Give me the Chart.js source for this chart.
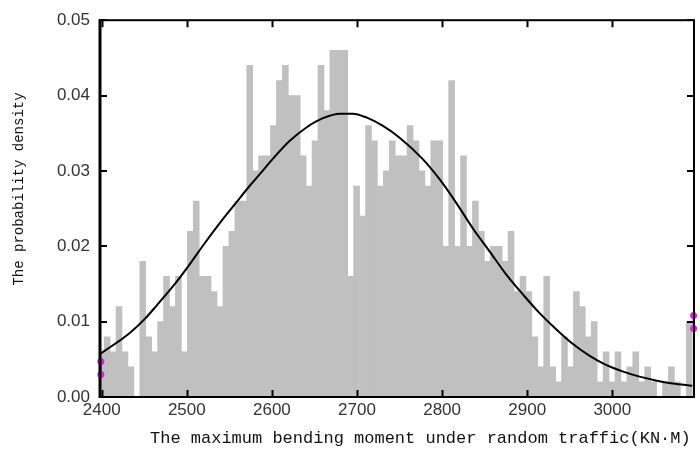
<!DOCTYPE html>
<html>
<head>
<meta charset="utf-8">
<script src="https://cdn.jsdelivr.net/npm/chart.js@4.4.0/dist/chart.umd.min.js"></script>
<style>
  html, body { margin: 0; padding: 0; background: #fff; }
  canvas { display: block; }
</style>
</head>
<body>
<canvas id="chart" width="700" height="451"></canvas>
<script>
// histogram bins (centres, KN·M) and their density
const binCenters = [
  2399.40, 2406.38, 2413.36, 2420.34, 2427.32, 2434.30, 2441.28, 2448.26, 2455.24, 2462.22,
  2469.20, 2476.18, 2483.16, 2490.14, 2497.12, 2504.10, 2511.08, 2518.06, 2525.04, 2532.02,
  2539.00, 2545.98, 2552.96, 2559.94, 2566.92, 2573.90, 2580.88, 2587.86, 2594.84, 2601.82,
  2608.80, 2615.78, 2622.76, 2629.74, 2636.72, 2643.70, 2650.68, 2657.66, 2664.64, 2671.62,
  2678.60, 2685.58, 2692.56, 2699.54, 2706.52, 2713.50, 2720.48, 2727.46, 2734.44, 2741.42,
  2748.40, 2755.38, 2762.36, 2769.34, 2776.32, 2783.30, 2790.28, 2797.26, 2804.24, 2811.22,
  2818.20, 2825.18, 2832.16, 2839.14, 2846.12, 2853.10, 2860.08, 2867.06, 2874.04, 2881.02,
  2888.00, 2894.98, 2901.96, 2908.94, 2915.92, 2922.90, 2929.88, 2936.86, 2943.84, 2950.82,
  2957.80, 2964.78, 2971.76, 2978.74, 2985.72, 2992.70, 2999.68, 3006.66, 3013.64, 3020.62,
  3027.60, 3034.58, 3041.56, 3048.54, 3055.52, 3062.50, 3069.48, 3076.46, 3083.44, 3090.42
];
const density = [
  0.006, 0.008, 0.006, 0.012, 0.006, 0.004, 0.000, 0.018, 0.008, 0.006,
  0.010, 0.016, 0.012, 0.016, 0.006, 0.022, 0.026, 0.016, 0.016, 0.014,
  0.012, 0.020, 0.022, 0.026, 0.026, 0.044, 0.030, 0.032, 0.032, 0.036,
  0.042, 0.044, 0.040, 0.040, 0.032, 0.028, 0.034, 0.044, 0.038, 0.046,
  0.046, 0.046, 0.016, 0.028, 0.024, 0.036, 0.034, 0.028, 0.030, 0.034,
  0.032, 0.032, 0.036, 0.034, 0.030, 0.028, 0.034, 0.034, 0.020, 0.042,
  0.020, 0.032, 0.020, 0.026, 0.022, 0.018, 0.020, 0.020, 0.018, 0.022,
  0.014, 0.016, 0.014, 0.008, 0.004, 0.016, 0.004, 0.002, 0.008, 0.004,
  0.014, 0.012, 0.008, 0.010, 0.002, 0.006, 0.002, 0.006, 0.002, 0.004,
  0.006, 0.002, 0.004, 0.002, 0.000, 0.002, 0.004, 0.002, 0.000, 0.010
];

// fitted density curve
const curveX = [
  2398, 2433, 2451, 2465, 2486, 2504, 2521, 2543, 2558, 2573,
  2586, 2601, 2621, 2641, 2660, 2680, 2695, 2711, 2730, 2749,
  2777, 2797, 2817, 2836, 2856, 2875, 2895, 2914, 2934, 2953,
  2973, 2992, 3012, 3032, 3051, 3071, 3094
];
const curveY = [
  0.0057, 0.0085, 0.0104, 0.0122, 0.0150, 0.0177, 0.0204, 0.0237, 0.0258, 0.0279,
  0.0296, 0.0316, 0.0340, 0.0358, 0.0370, 0.0376, 0.0376, 0.0371, 0.0360, 0.0345,
  0.0316, 0.0289, 0.0257, 0.0224, 0.0193, 0.0163, 0.0136, 0.0112, 0.0090, 0.0071,
  0.0055, 0.0043, 0.0034, 0.0027, 0.0022, 0.0018, 0.0015
];

// small magenta markers at both ends
const leftMarkX = [2399, 2399];
const leftMarkY = [0.0047, 0.0030];
const rightMarkX = [3095.5, 3095.5];
const rightMarkY = [0.0108, 0.0091];

const xTicks = [2400, 2500, 2600, 2700, 2800, 2900, 3000];
const xTickLabels = ["2400", "2500", "2600", "2700", "2800", "2900", "3000"];
const yTicks = [0, 0.01, 0.02, 0.03, 0.04, 0.05];
const yTickLabels = ["0.00", "0.01", "0.02", "0.03", "0.04", "0.05"];

const xTitle = "The maximum bending moment under random traffic(KN·M)";
const yTitle = "The probability density";

const pts = (xs, ys) => xs.map((x, i) => ({ x, y: ys[i] }));

// box round the plot, inward ticks on all four sides, axis titles
const framePlugin = {
  id: "frame",
  afterDatasetsDraw(chart) {
    const { ctx, chartArea: a, scales: { x, y } } = chart;
    ctx.save();
    ctx.strokeStyle = "#000";
    ctx.lineWidth = 2;
    ctx.beginPath();
    for (const v of xTicks) {
      const px = Math.round(x.getPixelForValue(v)) + 0.5;
      ctx.moveTo(px, a.bottom); ctx.lineTo(px, a.bottom - 7);
      ctx.moveTo(px, a.top); ctx.lineTo(px, a.top + 7);
    }
    for (const v of yTicks) {
      const py = Math.round(y.getPixelForValue(v));
      ctx.moveTo(a.left, py); ctx.lineTo(a.left + 7, py);
      ctx.moveTo(a.right, py); ctx.lineTo(a.right - 7, py);
    }
    ctx.stroke();
    ctx.strokeRect(a.left, a.top, a.right - a.left, a.bottom - a.top);
    ctx.lineWidth = 3;
    ctx.beginPath();
    ctx.moveTo(a.left, a.top - 1); ctx.lineTo(a.left, a.bottom + 1);
    ctx.stroke();
    ctx.restore();
  },
  afterDraw(chart) {
    const { ctx } = chart;
    ctx.save();
    ctx.fillStyle = "#111";
    ctx.font = "17px 'Liberation Mono'";
    ctx.textBaseline = "middle";
    ctx.textAlign = "left";
    ctx.fillText(xTitle, 150, 438);
    ctx.font = "14px 'Liberation Mono'";
    ctx.translate(19, 189);
    ctx.rotate(-Math.PI / 2);
    ctx.textAlign = "center";
    ctx.fillText(yTitle, 0, 0);
    ctx.restore();
  },
};

const tickFont = { family: "'Liberation Sans', Arial, sans-serif", size: 17 };

new Chart(document.getElementById("chart"), {
  type: "bar",
  data: {
    datasets: [
      {
        type: "line",
        data: pts(leftMarkX, leftMarkY),
        borderColor: "#e020e0",
        backgroundColor: "#e020e0",
        borderWidth: 2,
        pointRadius: 2.5,
        clip: false,
        order: 0,
      },
      {
        type: "line",
        data: pts(rightMarkX, rightMarkY),
        borderColor: "#e020e0",
        backgroundColor: "#e020e0",
        borderWidth: 2,
        pointRadius: 2.5,
        clip: false,
        order: 0,
      },
      {
        type: "line",
        data: pts(curveX, curveY),
        borderColor: "#000",
        borderWidth: 2,
        pointRadius: 0,
        cubicInterpolationMode: "monotone",
        order: 1,
      },
      {
        type: "bar",
        data: pts(binCenters, density),
        backgroundColor: "#c0c0c0",
        borderWidth: 0,
        barPercentage: 1,
        categoryPercentage: 1,
        order: 2,
      },
    ],
  },
  options: {
    responsive: false,
    animation: false,
    devicePixelRatio: 1,
    layout: { padding: { top: 18, right: 5, left: 0, bottom: 0 } },
    plugins: { legend: { display: false }, tooltip: { enabled: false } },
    scales: {
      x: {
        type: "linear",
        min: 2398,
        max: 3096,
        offset: false,
        grid: { display: false, drawTicks: false },
        border: { display: false },
        afterBuildTicks: (s) => { s.ticks = xTicks.map((v) => ({ value: v })); },
        afterFit: (s) => { s.height = 54; },
        ticks: {
          callback: (v, i) => xTickLabels[i],
          font: tickFont,
          color: "#333",
          padding: 3,
          maxRotation: 0,
          autoSkip: false,
        },
      },
      y: {
        type: "linear",
        min: 0,
        max: 0.05,
        grid: { display: false, drawTicks: false },
        border: { display: false },
        afterBuildTicks: (s) => { s.ticks = yTicks.map((v) => ({ value: v })); },
        afterFit: (s) => { s.width = 100; },
        ticks: {
          callback: (v, i) => yTickLabels[i],
          font: tickFont,
          color: "#333",
          padding: 10,
        },
      },
    },
  },
  plugins: [framePlugin],
});
</script>
</body>
</html>
